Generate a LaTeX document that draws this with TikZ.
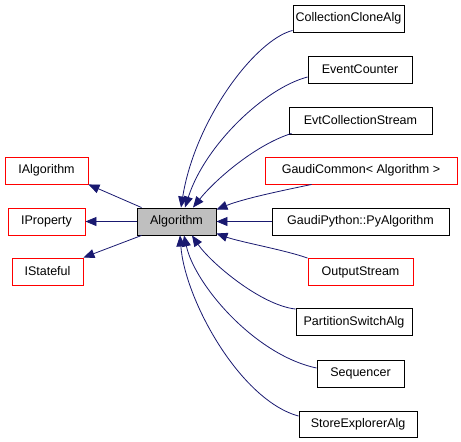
\documentclass[tikz,border=0pt]{standalone}
\usepackage{fontspec}
\setmainfont{Liberation Sans}
\usetikzlibrary{arrows.meta,calc}
\definecolor{edgecol}{HTML}{191970}
\definecolor{algfill}{HTML}{BFBFBF}
\begin{document}
\begin{tikzpicture}[x=1pt,y=-1pt,
  cls/.style={draw=black, line width=0.9pt, rectangle, inner sep=0pt,
    minimum height=27pt, font=\fontsize{12.5}{14}\selectfont},
  redcls/.style={cls, draw=red},
  edge/.style={draw=edgecol, line width=0.8pt,
    {Triangle[length=11pt,width=9pt]}-}]
\useasboundingbox (0,0) rectangle (461,442);
% nodes
\node[cls, fill=algfill, minimum width=79pt] (alg) at (176.5,221.5) {Algorithm};
\node[redcls, minimum width=83pt] (ialg) at (46.5,170.5) {IAlgorithm};
\node[redcls, minimum width=77pt] (ipr) at (46.5,221.5) {IProperty};
\node[redcls, minimum width=71pt] (ist) at (47.5,271.5) {IStateful};
\node[cls, minimum width=111pt] (cca) at (348.5,18.5) {CollectionCloneAlg};
\node[cls, minimum width=104pt] (ec) at (360,69.5) {EventCounter};
\node[cls, minimum width=143pt] (ecs) at (360.5,120.5) {EvtCollectionStream};
\node[redcls, minimum width=192pt] (gc) at (361,170.5) {GaudiCommon< Algorithm >};
\node[cls, minimum width=177pt] (gp) at (360.5,221.5) {GaudiPython::PyAlgorithm};
\node[redcls, minimum width=105pt] (os) at (360.5,272) {OutputStream};
\node[cls, minimum width=116pt] (psa) at (354,322) {PartitionSwitchAlg};
\node[cls, minimum width=87pt] (seq) at (360.5,373.5) {Sequencer};
\node[cls, minimum width=118pt, minimum height=26pt] (sea) at (358,424.5) {StoreExplorerAlg};
% parents
\draw[edge] (ialg.south east) -- ($(alg.north west)+(5,0)$);
\draw[edge] (ipr.east) -- (alg.west);
\draw[edge] (ist.north east) -- ($(alg.south west)+(5,0)$);
% children
\draw[edge] ($(alg.north)+(4.5,0)$) .. controls (195,120) and (255,40) .. ($(cca.south west)+(0,-2)$);
\draw[edge] ($(alg.north)+(8.5,0)$) .. controls (205,145) and (265,88) .. ($(ec.west)+(0,7.5)$);
\draw[edge] ($(alg.north)+(16.5,0)$) .. controls (215,180) and (255,145) .. ($(ecs.south west)+(3,-1)$);
\draw[edge] ($(alg.north east)+(0,2)$) .. controls (245,198) and (290,189) .. ($(gc.south west)+(47,0)$);
\draw[edge] (alg.east) -- (gp.west);
\draw[edge] ($(alg.south east)+(0,-2)$) .. controls (240,242) and (285,250) .. (os.north west);
\draw[edge] ($(alg.south)+(15.5,0)$) .. controls (210,262) and (260,305) .. ($(psa.north west)+(0,1)$);
\draw[edge] ($(alg.south)+(7.5,0)$) .. controls (195,285) and (255,355) .. ($(seq.west)+(0,-5.5)$);
\draw[edge] ($(alg.south)+(3.5,0)$) .. controls (185,300) and (240,400) .. ($(sea.north west)+(0,5)$);
\end{tikzpicture}
\end{document}
